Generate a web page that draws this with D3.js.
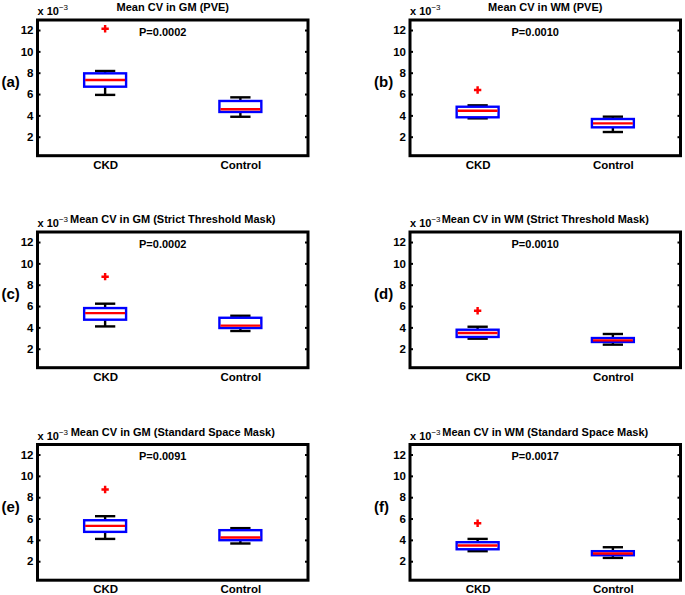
<!DOCTYPE html>
<html>
<head>
<meta charset="utf-8">
<script src="https://cdn.jsdelivr.net/npm/d3@7"></script>
<style>
  body { margin: 0; background: #fff; }
  svg { font-family: "Liberation Sans", Arial, sans-serif; font-weight: bold; }
</style>
</head>
<body>
<div id="chart"></div>
<script>
// categories and labels
const groups = ["CKD", "Control"];
const titles = [
    "Mean CV in GM (PVE)",
    "Mean CV in WM (PVE)",
    "Mean CV in GM (Strict Threshold Mask)",
    "Mean CV in WM (Strict Threshold Mask)",
    "Mean CV in GM (Standard Space Mask)",
    "Mean CV in WM (Standard Space Mask)"
];
const panelLabels = ["(a)", "(b)", "(c)", "(d)", "(e)", "(f)"];
const pValues = ["P=0.0002", "P=0.0010", "P=0.0002", "P=0.0010", "P=0.0091", "P=0.0017"];
const yTicks = [2, 4, 6, 8, 10, 12];
const yDomain = [0.22, 12.94];

// box statistics (x 10^-3), one pair [CKD, Control] per panel
const whiskerLow  = [[5.92, 3.87], [3.72, 2.44], [4.09, 3.66], [2.94, 2.38], [4.09, 3.66], [2.94, 2.31]];
const q1          = [[6.69, 4.32], [3.82, 2.88], [4.72, 3.94], [3.10, 2.63], [4.75, 3.97], [3.12, 2.56]];
const medians     = [[7.31, 4.57], [4.44, 3.25], [5.34, 4.16], [3.47, 2.78], [5.31, 4.22], [3.47, 2.72]];
const q3          = [[7.94, 5.35], [4.81, 3.66], [5.81, 4.90], [3.78, 3.00], [5.84, 4.91], [3.78, 2.94]];
const whiskerHigh = [[8.16, 5.69], [4.94, 3.88], [6.22, 5.09], [4.06, 3.38], [6.22, 5.10], [4.09, 3.31]];
const outliers    = [[12.12], [6.38], [8.75], [5.56], [8.72], [5.56]]; // CKD only

const W = 685, H = 595;
const colX = [37.5, 410];
const rowY = [20, 232, 444.5];
const pw = 270.5, ph = 135.7;

const svg = d3.select("#chart").append("svg")
    .attr("width", W).attr("height", H);

const x = d3.scaleLinear().domain([0.5, 2.5]).range([0, pw]);
const y = d3.scaleLinear().domain(yDomain).range([ph, 0]);
const halfBox = 0.155, halfCap = 0.075;

titles.forEach((title, i) => {
    const g = svg.append("g")
        .attr("transform", `translate(${colX[i % 2]},${rowY[Math.floor(i / 2)]})`);

    // ticks on left (with labels) and right, pointing inward
    const yl = g.append("g").call(d3.axisLeft(y).tickValues(yTicks).tickSize(-3).tickPadding(4));
    const yr = g.append("g").attr("transform", `translate(${pw},0)`)
        .call(d3.axisRight(y).tickValues(yTicks).tickSize(-3).tickFormat(""));
    const xb = g.append("g").attr("transform", `translate(0,${ph})`)
        .call(d3.axisBottom(x).tickValues([1, 2]).tickFormat(d => groups[d - 1]).tickSize(0).tickPadding(5));
    [yl, yr, xb].forEach(a => {
        a.select(".domain").remove();
        a.selectAll("line").attr("stroke", "#000").attr("stroke-width", 2);
        a.selectAll("text").attr("font-size", 11.5).attr("font-family", null).attr("fill", "#000");
    });
    xb.selectAll("text").attr("font-size", 11.5);

    groups.forEach((grp, j) => {
        const cx = j + 1;
        const bg = g.append("g");
        // whiskers
        bg.append("line")
            .attr("x1", x(cx)).attr("x2", x(cx))
            .attr("y1", y(q3[i][j])).attr("y2", y(whiskerHigh[i][j]));
        bg.append("line")
            .attr("x1", x(cx)).attr("x2", x(cx))
            .attr("y1", y(q1[i][j])).attr("y2", y(whiskerLow[i][j]));
        bg.append("line")
            .attr("x1", x(cx - halfCap)).attr("x2", x(cx + halfCap))
            .attr("y1", y(whiskerHigh[i][j])).attr("y2", y(whiskerHigh[i][j]));
        bg.append("line")
            .attr("x1", x(cx - halfCap)).attr("x2", x(cx + halfCap))
            .attr("y1", y(whiskerLow[i][j])).attr("y2", y(whiskerLow[i][j]));
        bg.selectAll("line").attr("stroke", "#000").attr("stroke-width", 2.4);

        // box
        g.append("rect")
            .attr("x", x(cx - halfBox))
            .attr("y", y(q3[i][j]))
            .attr("width", x(cx + halfBox) - x(cx - halfBox))
            .attr("height", y(q1[i][j]) - y(q3[i][j]))
            .attr("fill", "none")
            .attr("stroke", "#0000ff")
            .attr("stroke-width", 2.4);

        // median
        g.append("line")
            .attr("x1", x(cx - halfBox) + 1).attr("x2", x(cx + halfBox) - 1)
            .attr("y1", y(medians[i][j])).attr("y2", y(medians[i][j]))
            .attr("stroke", "#ff0000")
            .attr("stroke-width", 2.4);
    });

    // outliers (CKD)
    g.selectAll("path.outlier")
        .data(outliers[i])
        .enter().append("path")
        .attr("class", "outlier")
        .attr("transform", d => `translate(${x(1)},${y(d)})`)
        .attr("d", d3.symbol(d3.symbolCross, 30))
        .attr("fill", "#ff0000");

    // frame
    g.append("rect")
        .attr("width", pw).attr("height", ph)
        .attr("fill", "none")
        .attr("stroke", "#000")
        .attr("stroke-width", 3);

    // p-value
    g.append("text")
        .attr("x", 101.5).attr("y", 15.5)
        .attr("font-size", 11)
        .text(pValues[i]);

    // title
    g.append("text")
        .attr("x", pw / 2).attr("y", -9)
        .attr("text-anchor", "middle")
        .attr("font-size", 11)
        .text(title);

    // exponent label
    const ex = g.append("text")
        .attr("x", 0).attr("y", -5)
        .attr("font-size", 11);
    ex.append("tspan").text("x 10");
    ex.append("tspan").attr("dy", -5).attr("font-size", 8).attr("font-weight", "normal").text("\u22123");

    // panel label
    g.append("text")
        .attr("x", -36).attr("y", 67)
        .attr("font-size", 15)
        .text(panelLabels[i]);
});
</script>
</body>
</html>
